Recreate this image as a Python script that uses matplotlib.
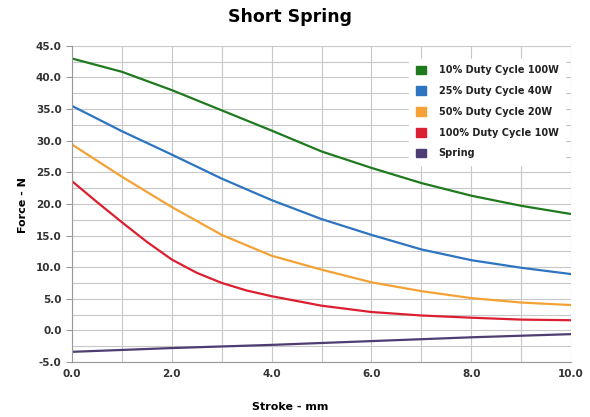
import numpy as np
import matplotlib
matplotlib.use("Agg")
import matplotlib.pyplot as plt
from matplotlib.patches import Patch
from matplotlib.ticker import MultipleLocator, FormatStrFormatter

# stroke positions (mm)
stroke = [0, 1, 2, 3, 4, 5, 6, 7, 8, 9, 10]
stroke_red = [0, 0.5, 1, 1.5, 2, 2.5, 3, 3.5, 4, 5, 6, 7, 8, 9, 10]

# force values (N)
duty_10 = [43.0, 40.9, 38.0, 34.8, 31.6, 28.3, 25.7, 23.3, 21.3, 19.7, 18.4]
duty_25 = [35.5, 31.5, 27.8, 24.0, 20.6, 17.6, 15.1, 12.8, 11.1, 9.9, 8.9]
duty_50 = [29.4, 24.3, 19.5, 15.1, 11.8, 9.6, 7.6, 6.2, 5.1, 4.4, 4.0]
duty_100 = [23.6, 20.3, 17.1, 14.0, 11.2, 9.1, 7.5, 6.3, 5.4, 3.9, 2.9, 2.35, 2.0, 1.7, 1.6]
spring = [-3.4, -3.1, -2.8, -2.55, -2.3, -2.0, -1.7, -1.4, -1.1, -0.85, -0.6]

labels = ["10% Duty Cycle 100W", "25% Duty Cycle 40W", "50% Duty Cycle 20W",
          "100% Duty Cycle 10W", "Spring"]
colors = ["#1f7a1f", "#2e74c0", "#f4a236", "#dc1f30", "#4e3d72"]

fig = plt.figure(figsize=(5.9, 4.17), dpi=100)
ax = fig.add_axes([0.122, 0.132, 0.846, 0.758])

ax.plot(stroke, duty_10, color=colors[0], lw=1.6)
ax.plot(stroke, duty_25, color=colors[1], lw=1.6)
ax.plot(stroke, duty_50, color=colors[2], lw=1.6)
ax.plot(stroke_red, duty_100, color=colors[3], lw=1.6)
ax.plot(stroke, spring, color=colors[4], lw=1.6)

ax.set_xlim(0, 10)
ax.set_ylim(-5, 45)
ax.xaxis.set_major_locator(MultipleLocator(2))
ax.xaxis.set_minor_locator(MultipleLocator(1))
ax.yaxis.set_major_locator(MultipleLocator(5))
ax.yaxis.set_minor_locator(MultipleLocator(2.5))
ax.xaxis.set_major_formatter(FormatStrFormatter("%.1f"))
ax.yaxis.set_major_formatter(FormatStrFormatter("%.1f"))
ax.grid(True, which="both", color="#c8c8c8", lw=0.8)
ax.set_axisbelow(True)

for s in ["top", "right"]:
    ax.spines[s].set_visible(False)
for s in ["left", "bottom"]:
    ax.spines[s].set_color("#999999")
ax.tick_params(which="both", length=0, colors="#333333")
ax.tick_params(axis="y", which="major", length=4, color="#999999")
ax.tick_params(axis="x", which="major", pad=5)
for t in ax.get_xticklabels() + ax.get_yticklabels():
    t.set_fontsize(7.5)
    t.set_fontweight("bold")

fig.text(290 / 590, 1 - 17 / 417, "Short Spring", fontsize=12.5, fontweight="bold",
         ha="center", va="center")
fig.text(290 / 590, 1 - 407 / 417, "Stroke - mm", fontsize=8, fontweight="bold",
         ha="center", va="center")
fig.text(23 / 590, 1 - 205 / 417, "Force - N", fontsize=8, fontweight="bold",
         ha="center", va="center", rotation=90)

handles = [Patch(facecolor=c, edgecolor=c) for c in colors]
leg = ax.legend(handles, labels, loc="upper right", bbox_to_anchor=(0.998, 0.975),
                frameon=True, fontsize=7, handlelength=1.0, handleheight=1.0,
                handletextpad=1.3, labelspacing=1.1, borderpad=0.7)
leg.get_frame().set_edgecolor("white")
leg.get_frame().set_facecolor("white")
leg.get_frame().set_alpha(1)
for t in leg.get_texts():
    t.set_fontweight("bold")
    t.set_color("#222222")

fig.savefig("out.png", dpi=100)
